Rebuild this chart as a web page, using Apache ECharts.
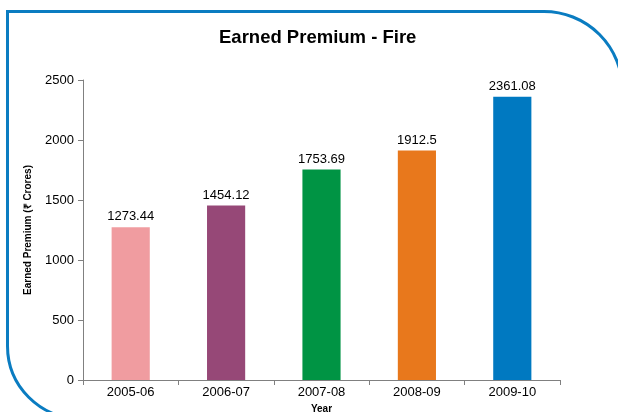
<!DOCTYPE html>
<html>
<head>
<meta charset="utf-8">
<script src="https://cdn.jsdelivr.net/npm/echarts@6/dist/echarts.min.js"></script>
<style>
  html, body { margin: 0; padding: 0; background: #fff; overflow: hidden; }
  #frame {
    position: absolute; left: 6px; top: 10px; width: 612px; height: 404px;
    border: 3px solid #0a7cc1; border-radius: 0 80px 0 74px;
  }
  #chart { position: absolute; left: 0; top: 0; width: 618px; height: 412px; }
</style>
</head>
<body>
<div id="frame"></div>
<div id="chart"></div>
<script>
const years = ["2005-06", "2006-07", "2007-08", "2008-09", "2009-10"];
const premium = [1273.44, 1454.12, 1753.69, 1912.5, 2361.08];
const barColors = ["#f09ca0", "#964877", "#009444", "#e8781c", "#0079c1"];

const chart = echarts.init(document.getElementById("chart"), null, { renderer: "canvas" });

chart.setOption({
  animation: false,
  textStyle: { fontFamily: "Liberation Sans, Arial, sans-serif" },
  title: {
    text: "Earned Premium - Fire",
    left: 214,
    top: 23,
    textStyle: { fontSize: 18.5, fontWeight: "bold", color: "#000" },
  },
  grid: { top: 80, bottom: 32, left: 83, right: 58, outerBoundsMode: "none", containLabel: false },
  xAxis: {
    type: "category",
    data: years,
    name: "Year",
    nameLocation: "middle",
    nameGap: 19,
    nameTextStyle: { fontSize: 10, fontWeight: "bold", color: "#000" },
    axisLine: { lineStyle: { color: "#808080", width: 1 } },
    axisTick: { show: true, alignWithLabel: false, length: 5, lineStyle: { color: "#808080" } },
    axisLabel: { color: "#000", fontSize: 13, margin: 6 },
  },
  yAxis: {
    type: "value",
    min: 0,
    max: 2500,
    interval: 500,
    name: "Earned Premium (₹ Crores)",
    nameLocation: "middle",
    nameGap: 50,
    nameTextStyle: { fontSize: 10, fontWeight: "bold", color: "#000" },
    axisLine: { show: true, lineStyle: { color: "#808080", width: 1 } },
    axisTick: { show: true, length: 5, lineStyle: { color: "#808080" } },
    axisLabel: { color: "#000", fontSize: 13, margin: 9, formatter: (v) => String(v) },
    splitLine: { show: false },
  },
  series: [
    {
      type: "bar",
      barWidth: "40%",
      data: premium.map((value, index) => ({
        value,
        itemStyle: { color: barColors[index] },
      })),
      label: {
        show: true,
        position: "top",
        distance: 4,
        color: "#000",
        fontSize: 13,
      },
    },
  ],
});
</script>
</body>
</html>
